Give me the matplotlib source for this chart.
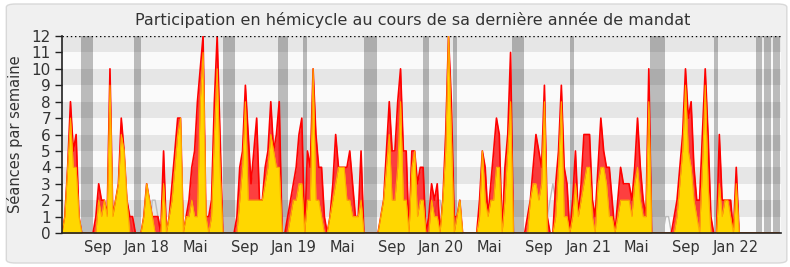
import numpy as np
import pandas as pd
import matplotlib
matplotlib.use('Agg')
import matplotlib.pyplot as plt
from matplotlib.patches import FancyBboxPatch

# weekly séances (red = présences, yellow = interventions)
red = [0, 1, 4, 8, 5, 6, 1, 0, 0, 0,
       0, 0, 1, 3, 2, 2, 1, 10, 1, 2,
       3, 7, 5, 2, 1, 1, 0, 0, 0, 1,
       3, 2, 1, 1, 1, 0, 5, 0, 1, 3,
       5, 7, 7, 0, 1, 2, 4, 5, 8, 10,
       12, 1, 1, 2, 8, 12, 6, 0, 0, 0,
       0, 0, 1, 4, 5, 9, 6, 3, 5, 7,
       2, 2, 4, 5, 8, 5, 6, 8, 0, 0,
       1, 2, 3, 4, 6, 7, 0, 5, 4, 10,
       6, 4, 4, 1, 0, 1, 3, 6, 4, 4,
       4, 4, 5, 3, 1, 1, 5, 0, 0, 0,
       0, 0, 0, 1, 2, 5, 8, 5, 5, 8,
       10, 5, 5, 0, 5, 5, 3, 4, 4, 0,
       1, 3, 2, 3, 0, 2, 6, 12, 8, 1,
       1, 2, 0, 0, 0, 0, 0, 0, 2, 5,
       4, 1, 3, 5, 7, 6, 0, 4, 6, 11,
       0, 0, 0, 0, 0, 1, 2, 4, 6, 5,
       4, 9, 1, 0, 0, 3, 5, 9, 4, 3,
       0, 2, 5, 1, 3, 6, 6, 6, 2, 1,
       4, 7, 5, 4, 4, 2, 0, 2, 4, 3,
       3, 3, 2, 4, 7, 4, 2, 1, 10, 0,
       0, 0, 0, 0, 0, 0, 0, 1, 2, 4,
       6, 10, 7, 8, 4, 2, 2, 6, 10, 6,
       1, 0, 0, 6, 2, 2, 2, 2, 0, 4,
       0, 0, 0, 0, 0, 0, 0, 0, 0, 0,
       0, 0, 0, 0, 0]

yellow = [0, 1, 4, 7, 4, 4, 1, 0, 0, 0,
          0, 0, 0, 2, 1, 2, 1, 9, 1, 2,
          3, 6, 5, 2, 0, 0, 0, 0, 0, 1,
          3, 2, 1, 0, 0, 0, 3, 0, 1, 2,
          4, 6, 7, 0, 1, 1, 2, 1, 1, 8,
          11, 1, 0, 1, 6, 10, 4, 0, 0, 0,
          0, 0, 0, 2, 4, 8, 2, 2, 2, 2,
          2, 2, 3, 4, 6, 5, 4, 4, 0, 0,
          0, 1, 2, 2, 3, 3, 0, 2, 2, 10,
          2, 2, 1, 0, 0, 1, 2, 3, 4, 4,
          4, 2, 2, 1, 1, 1, 2, 0, 0, 0,
          0, 0, 0, 1, 2, 4, 6, 2, 2, 4,
          8, 2, 2, 0, 4, 5, 1, 2, 2, 0,
          0, 2, 1, 1, 0, 2, 5, 12, 6, 0,
          1, 2, 0, 0, 0, 0, 0, 0, 1, 5,
          2, 1, 2, 2, 4, 4, 0, 2, 5, 8,
          0, 0, 0, 0, 0, 0, 2, 3, 3, 2,
          3, 8, 0, 0, 0, 1, 4, 8, 1, 1,
          0, 1, 3, 1, 2, 3, 4, 4, 1, 0,
          3, 4, 4, 3, 1, 1, 0, 1, 2, 2,
          2, 2, 1, 3, 4, 2, 1, 1, 8, 0,
          0, 0, 0, 0, 0, 0, 0, 0, 1, 3,
          5, 9, 5, 4, 2, 1, 0, 4, 9, 3,
          0, 0, 0, 3, 1, 2, 2, 1, 0, 3,
          0, 0, 0, 0, 0, 0, 0, 0, 0, 0,
          0, 0, 0, 0, 0]

# median line (only the visible parts, zero elsewhere)
median_idx = [21, 22, 23, 24, 25, 31, 32, 33, 34, 35, 132, 133, 134, 135,
              172, 173, 174, 175, 176, 213, 214, 215, 216]
median_val = [0, 1, 2, 1, 0, 0, 2, 2, 1, 0, 1, 2, 2, 1,
              1, 2, 3, 2, 1, 0, 1, 1, 0]

vac_start = ['2017-07-22', '2017-12-01', '2018-07-10', '2018-11-23', '2019-01-24',
             '2019-06-25', '2019-11-18', '2020-01-31', '2020-06-26', '2020-11-17',
             '2021-06-03', '2021-11-09', '2022-02-21', '2022-03-13', '2022-04-05']
vac_end = ['2017-08-21', '2017-12-18', '2018-08-08', '2018-12-18', '2019-02-03',
           '2019-07-27', '2019-12-03', '2020-02-10', '2020-07-26', '2020-11-27',
           '2021-07-11', '2021-11-19', '2022-03-08', '2022-03-31', '2022-04-22']

tick_dates = ['2017-09-01', '2018-01-01', '2018-05-01', '2018-09-01', '2019-01-01',
              '2019-05-01', '2019-09-01', '2020-01-01', '2020-05-01', '2020-09-01',
              '2021-01-01', '2021-05-01', '2021-09-01', '2022-01-01']
tick_labels = ['Sep', 'Jan 18', 'Mai', 'Sep', 'Jan 19', 'Mai', 'Sep', 'Jan 20',
               'Mai', 'Sep', 'Jan 21', 'Mai', 'Sep', 'Jan 22']

weeks = pd.date_range('2017-06-05', periods=len(red), freq='7D')
median = np.zeros(len(red))
median[median_idx] = median_val

fig = plt.figure(figsize=(7.9, 2.67), dpi=100)
fig.patch.set_facecolor('white')
bg = FancyBboxPatch((0.008, 0.015), 0.988, 0.97, boxstyle='round,pad=0,rounding_size=0.012',
                    transform=fig.transFigure, facecolor='#f0f0f0',
                    edgecolor='#d8d8d8', linewidth=1, zorder=-10)
fig.add_artist(bg)
ax = fig.add_axes([0.0785, 0.1273, 0.9101, 0.7379])
ax.set_zorder(1)
ax.set_facecolor('#fafafa')

for k in range(1, 12, 2):
    ax.axhspan(k, k + 1, color='#e6e6e6', zorder=0, lw=0)
for s, e in zip(vac_start, vac_end):
    ax.axvspan(pd.Timestamp(s), pd.Timestamp(e), color='black', alpha=0.25, lw=0, zorder=1)

ax.plot(weeks, median, color='#bbbbbb', lw=1, zorder=2)
ax.fill_between(weeks, red, color='#ff0000', alpha=0.75, lw=0, zorder=3)
ax.plot(weeks, red, color='#ff0000', lw=1.2, zorder=4)
ax.fill_between(weeks, yellow, color='#ffd700', lw=0, zorder=5)
ax.plot(weeks, yellow, color='#ffaa00', lw=0.8, zorder=6)

ax.axhline(12, color='black', lw=1, ls=(0, (1, 2)), zorder=7)
ax.set_ylim(0, 12)
ax.set_xlim(pd.Timestamp('2017-06-05'), pd.Timestamp('2022-04-24'))
ax.set_yticks(range(0, 13))
ax.set_xticks(pd.to_datetime(tick_dates))
ax.set_xticklabels(tick_labels)
ax.tick_params(axis='x', length=0, labelsize=10.5, colors='#333333', pad=5)
ax.tick_params(axis='y', length=5, width=1, color='#222222', labelcolor='#333333',
               labelsize=11, pad=3)
for sp in ['top', 'right']:
    ax.spines[sp].set_visible(False)
for sp in ['left', 'bottom']:
    ax.spines[sp].set_color('#222222')
    ax.spines[sp].set_linewidth(1.2)
    ax.spines[sp].set_zorder(8)

ax.set_ylabel('Séances par semaine', fontsize=10.5, color='#333333', labelpad=6)
fig.text(0.522, 0.925, 'Participation en hémicycle au cours de sa dernière année de mandat',
         ha='center', va='center', fontsize=11.5, color='#333333')

fig.savefig('out.png', dpi=100)
